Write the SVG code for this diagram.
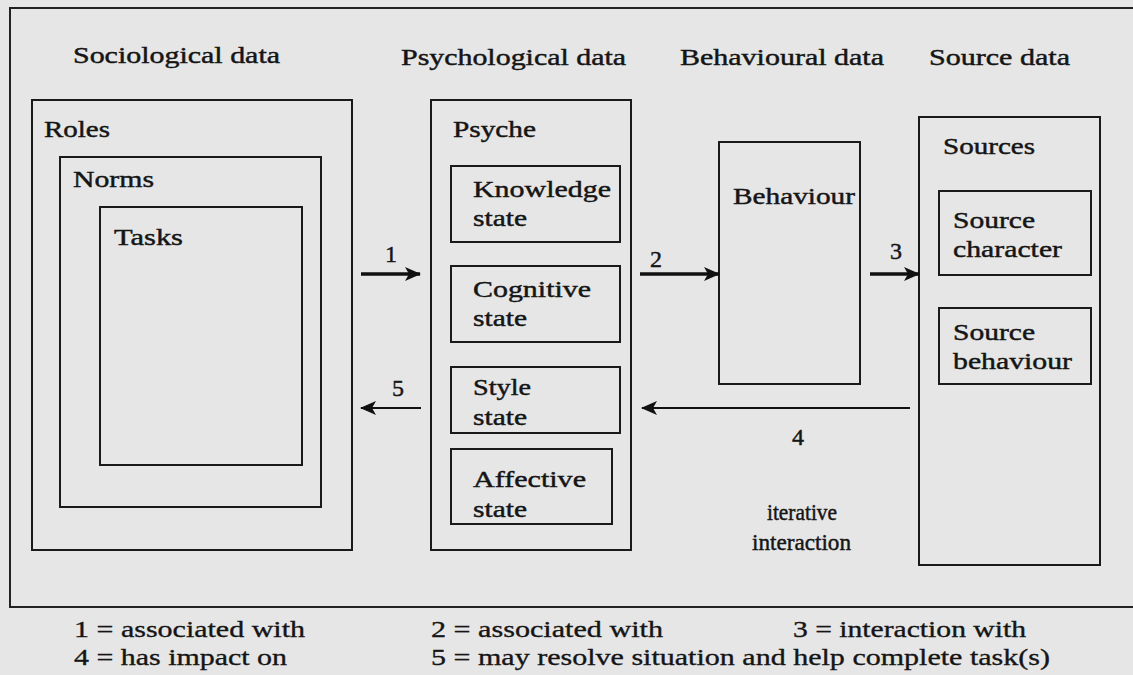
<svg xmlns="http://www.w3.org/2000/svg" width="1133" height="675" viewBox="0 0 1133 675">
<style>
.bx{fill:none;stroke:#1a1a1a;stroke-width:2}
.t{font-family:"Liberation Serif","Times New Roman",serif;font-size:24px;fill:#151515;stroke:#151515;stroke-width:0.45}
.lg{font-family:"Liberation Serif","Times New Roman",serif;font-size:24px;fill:#151515;stroke:#151515;stroke-width:0.35}
.c{stroke:#111;fill:none}
</style>
<defs>
<marker id="ah" markerUnits="userSpaceOnUse" markerWidth="16" markerHeight="14" refX="15" refY="7" orient="auto">
<path d="M0,0 L16,7 L0,14 L4,7 Z" fill="#111"/>
</marker>
</defs>
<rect width="1133" height="675" fill="#e6e6e6"/>
<path d="M1133,8 H10 V607 H1133" fill="none" stroke="#222" stroke-width="2"/>
<g id="headings">
<text class="t" x="73" y="63" textLength="207" lengthAdjust="spacingAndGlyphs">Sociological data</text>
<text class="t" x="401" y="65" textLength="225" lengthAdjust="spacingAndGlyphs">Psychological data</text>
<text class="t" x="680" y="65" textLength="204" lengthAdjust="spacingAndGlyphs">Behavioural data</text>
<text class="t" x="929" y="65" textLength="141" lengthAdjust="spacingAndGlyphs">Source data</text>
</g>
<g id="roles">
<rect class="bx" x="32" y="100" width="320" height="450"/>
<text class="t" x="44" y="137" textLength="66" lengthAdjust="spacingAndGlyphs">Roles</text>
</g>
<g id="norms">
<rect class="bx" x="60" y="157" width="261" height="350"/>
<text class="t" x="73" y="187" textLength="81" lengthAdjust="spacingAndGlyphs">Norms</text>
</g>
<g id="tasks">
<rect class="bx" x="100" y="207" width="202" height="258"/>
<text class="t" x="114" y="245" textLength="69" lengthAdjust="spacingAndGlyphs">Tasks</text>
</g>
<g id="psyche">
<rect class="bx" x="431" y="100" width="200" height="450"/>
<text class="t" x="453" y="137" textLength="83" lengthAdjust="spacingAndGlyphs">Psyche</text>
</g>
<g id="knowledge">
<rect class="bx" x="451" y="166" width="169" height="76"/>
<text class="t" x="473" y="197" textLength="138" lengthAdjust="spacingAndGlyphs">Knowledge</text>
<text class="t" x="473" y="226" textLength="54" lengthAdjust="spacingAndGlyphs">state</text>
</g>
<g id="cognitive">
<rect class="bx" x="451" y="266" width="169" height="76"/>
<text class="t" x="473" y="297" textLength="118" lengthAdjust="spacingAndGlyphs">Cognitive</text>
<text class="t" x="473" y="326" textLength="54" lengthAdjust="spacingAndGlyphs">state</text>
</g>
<g id="style">
<rect class="bx" x="451" y="367" width="169" height="66"/>
<text class="t" x="473" y="395" textLength="58" lengthAdjust="spacingAndGlyphs">Style</text>
<text class="t" x="473" y="425" textLength="54" lengthAdjust="spacingAndGlyphs">state</text>
</g>
<g id="affective">
<rect class="bx" x="451" y="449" width="161" height="75"/>
<text class="t" x="473" y="487" textLength="113" lengthAdjust="spacingAndGlyphs">Affective</text>
<text class="t" x="473" y="517" textLength="54" lengthAdjust="spacingAndGlyphs">state</text>
</g>
<g id="behaviour">
<rect class="bx" x="719" y="142" width="141" height="242"/>
<text class="t" x="733" y="204" textLength="122" lengthAdjust="spacingAndGlyphs">Behaviour</text>
</g>
<g id="sources">
<rect class="bx" x="919" y="117" width="181" height="448"/>
<text class="t" x="943" y="154" textLength="92" lengthAdjust="spacingAndGlyphs">Sources</text>
</g>
<g id="source-character">
<rect class="bx" x="939" y="191" width="152" height="84"/>
<text class="t" x="953" y="228" textLength="82" lengthAdjust="spacingAndGlyphs">Source</text>
<text class="t" x="953" y="257" textLength="109" lengthAdjust="spacingAndGlyphs">character</text>
</g>
<g id="source-behaviour">
<rect class="bx" x="939" y="308" width="152" height="76"/>
<text class="t" x="953" y="340" textLength="82" lengthAdjust="spacingAndGlyphs">Source</text>
<text class="t" x="953" y="369" textLength="119" lengthAdjust="spacingAndGlyphs">behaviour</text>
</g>
<g id="connectors">
<line class="c" x1="361" y1="274" x2="420" y2="274" stroke-width="3.5" marker-end="url(#ah)"/>
<text class="t" x="385" y="262">1</text>
<line class="c" x1="640" y1="274" x2="719" y2="274" stroke-width="3.5" marker-end="url(#ah)"/>
<text class="t" x="650" y="267">2</text>
<line class="c" x1="870" y1="274" x2="919" y2="274" stroke-width="3.5" marker-end="url(#ah)"/>
<text class="t" x="890" y="259">3</text>
<line class="c" x1="421" y1="408" x2="361" y2="408" stroke-width="2" marker-end="url(#ah)"/>
<text class="t" x="392" y="396">5</text>
<line class="c" x1="910" y1="408" x2="642" y2="408" stroke-width="2" marker-end="url(#ah)"/>
<text class="t" x="792" y="445">4</text>
<text class="t" x="767" y="520" textLength="70" lengthAdjust="spacingAndGlyphs">iterative</text>
<text class="t" x="752" y="550" textLength="99" lengthAdjust="spacingAndGlyphs">interaction</text>
</g>
<g id="legend">
<text class="lg" x="74" y="637" textLength="231" lengthAdjust="spacingAndGlyphs">1 = associated with</text>
<text class="lg" x="431" y="637" textLength="232" lengthAdjust="spacingAndGlyphs">2 = associated with</text>
<text class="lg" x="793" y="637" textLength="233" lengthAdjust="spacingAndGlyphs">3 = interaction with</text>
<text class="lg" x="74" y="665" textLength="213" lengthAdjust="spacingAndGlyphs">4 = has impact on</text>
<text class="lg" x="431" y="665" textLength="619" lengthAdjust="spacingAndGlyphs">5 = may resolve situation and help complete task(s)</text>
</g>
</svg>
